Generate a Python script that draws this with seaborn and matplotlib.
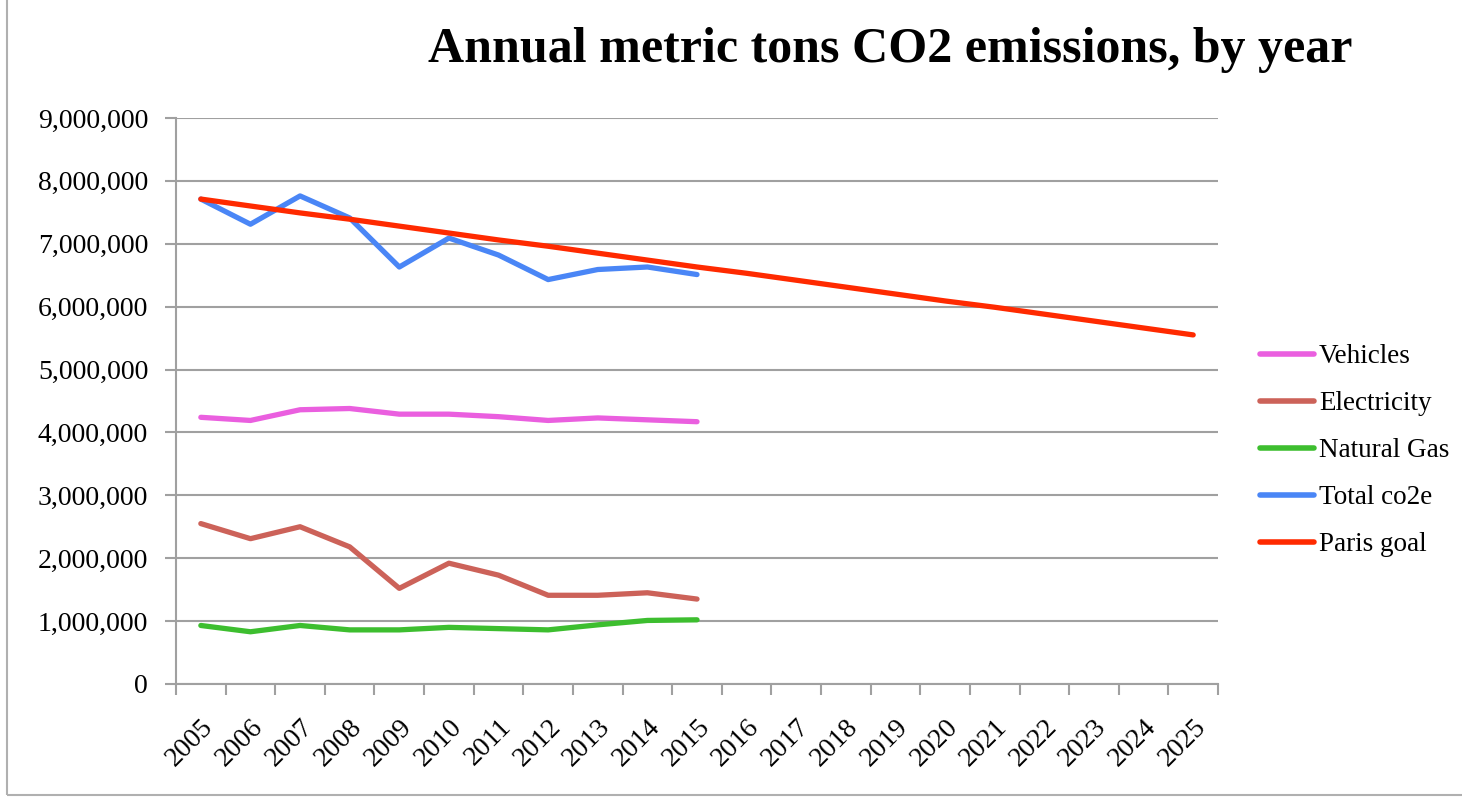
import pandas as pd
import seaborn as sns
import matplotlib.pyplot as plt
from matplotlib.patches import Rectangle
from matplotlib.ticker import FuncFormatter, FixedLocator

# --- data ---
years = list(range(2005, 2026))

vehicles = [4240000, 4190000, 4360000, 4380000, 4290000, 4290000, 4250000, 4190000, 4230000, 4200000, 4170000]
electricity = [2550000, 2310000, 2500000, 2180000, 1520000, 1920000, 1730000, 1410000, 1410000, 1450000, 1350000]
natural_gas = [930000, 830000, 930000, 860000, 860000, 900000, 880000, 860000, 940000, 1010000, 1020000]
total_co2e = [7710000, 7310000, 7760000, 7410000, 6630000, 7090000, 6820000, 6430000, 6590000, 6630000, 6510000]
paris_goal = [7710000, 7600000, 7490000, 7390000, 7280000, 7170000, 7060000, 6960000, 6850000, 6740000,
              6630000, 6530000, 6420000, 6310000, 6200000, 6090000, 5990000, 5880000, 5770000, 5660000, 5550000]

series_names = ["Vehicles", "Electricity", "Natural Gas", "Total co2e", "Paris goal"]
colors = ["#EA5FDF", "#CC6259", "#3DBE2F", "#4A86F6", "#FF2A00"]

# --- long-form table ---
rows = []
for name, vals in zip(series_names, [vehicles, electricity, natural_gas, total_co2e, paris_goal]):
    for i, v in enumerate(vals):
        rows.append({"pos": i, "value": v, "series": name})
df = pd.DataFrame(rows)

sns.set_style("white")
plt.rcParams['font.family'] = ['Liberation Serif', 'DejaVu Serif']
plt.rcParams['text.color'] = 'black'

fig = plt.figure(figsize=(14.62, 7.98), dpi=100)
# thin grey frame round the chart area
fig.add_artist(Rectangle((0.005, 0.004), 1.2, 1.2, transform=fig.transFigure,
                         fill=False, edgecolor="#b0b0b0", linewidth=1.5))
ax = fig.add_axes([0.1204, 0.1429, 0.7127, 0.7093])

sns.lineplot(data=df, x="pos", y="value", hue="series", hue_order=series_names,
             palette=colors, linewidth=3.8, ax=ax, sort=False)

# category axis: ticks at band edges, labels at band centres
ax.set_xlim(-0.5, len(years) - 0.5)
ax.xaxis.set_major_locator(FixedLocator([i - 0.5 for i in range(len(years) + 1)]))
ax.xaxis.set_minor_locator(FixedLocator(range(len(years))))
ax.set_xticklabels([], minor=False)
ax.set_xticklabels([str(y) for y in years], minor=True, rotation=45, ha="right",
                   rotation_mode="anchor", fontsize=20)
ax.tick_params(axis="x", which="major", direction="out", length=8, width=1.5, color="#a0a0a0", bottom=True)
ax.tick_params(axis="x", which="minor", length=0, pad=22, labelcolor="black")

ax.set_ylim(0, 9000000)
ax.set_yticks(range(0, 9000001, 1000000))
ax.yaxis.set_major_formatter(FuncFormatter(lambda v, p: f"{int(v):,}"))
ax.tick_params(axis="y", direction="out", length=8, width=1.5, color="#a0a0a0", left=True,
               labelsize=20, pad=12, labelcolor="black")

ax.grid(axis="y", color="#a0a0a0", linewidth=1.5)
ax.grid(axis="x", visible=False)
for side in ["top", "right"]:
    ax.spines[side].set_visible(False)
for side in ["left", "bottom"]:
    ax.spines[side].set_color("#a0a0a0")
    ax.spines[side].set_linewidth(1.5)
ax.set_xlabel("")
ax.set_ylabel("")

leg = ax.legend(loc="center left", bbox_to_anchor=(1.0165, 0.412), frameon=False, fontsize=19.5,
                handlelength=2.0, labelspacing=0.81, handletextpad=0.2)
for line in leg.get_lines():
    line.set_linewidth(4)

fig.text(0.609, 0.937, "Annual metric tons CO2 emissions, by year", ha="center", va="center",
         fontsize=36, fontweight="bold")

fig.savefig("out.png", dpi=100)
